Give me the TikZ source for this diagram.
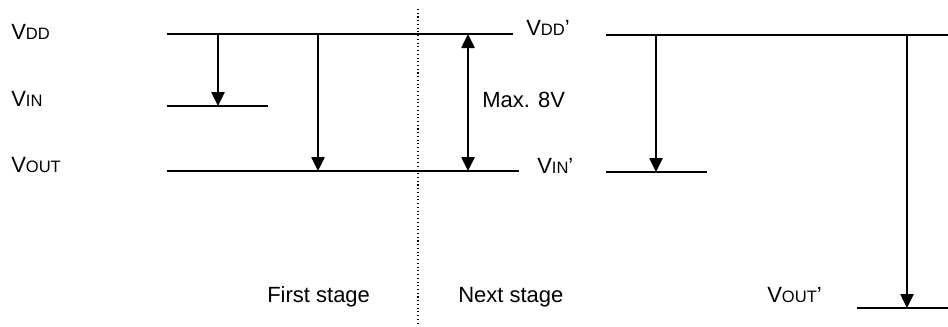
\documentclass[tikz,border=0pt]{standalone}
\usepackage{fontspec}
\setmainfont{Liberation Sans}
\usetikzlibrary{arrows.meta}
\newcommand{\lowcap}[1]{{\fontsize{12.4}{14}\selectfont #1}}
\tikzset{
  level/.style={line width=1.1pt},
  tip/.tip={Triangle[width=10pt,length=10.5pt]},
  arr/.style={line width=1.1pt,-tip},
  dblarr/.style={line width=1.1pt,tip-tip},
  lbl/.style={anchor=base west,inner sep=0pt,font=\fontsize{16.5}{19}\selectfont}
}
\begin{document}
\begin{tikzpicture}[x=.75pt,y=-.75pt]
\path[use as bounding box] (0,0) rectangle (948,326);
\coordinate (vddL) at (167,34);
\coordinate (vddR) at (513,34);
\coordinate (vinL) at (167,106);
\coordinate (vinR) at (268,106);
\coordinate (voutL) at (167,171);
\coordinate (voutR) at (519,171);
\coordinate (vddnL) at (606,35);
\coordinate (vddnR) at (948,35);
\coordinate (vinnL) at (606,172);
\coordinate (vinnR) at (707,172);
\coordinate (voutnL) at (857,308);
\coordinate (voutnR) at (948,308);
\draw[level] (vddL)--(vddR);
\draw[level] (vinL)--(vinR);
\draw[level] (voutL)--(voutR);
\draw[level] (vddnL)--(vddnR);
\draw[level] (vinnL)--(vinnR);
\draw[level] (voutnL)--(voutnR);
\draw[line width=.8pt,dotted] (418,9)--(418,326);
\coordinate (a1) at (218,0);
\coordinate (a2) at (318,0);
\coordinate (a3) at (468,0);
\coordinate (a4) at (656,0);
\coordinate (a5) at (907,0);
\draw[arr] (a1|-vddL)--(a1|-vinL);
\draw[arr] (a2|-vddL)--(a2|-voutL);
\draw[dblarr] (a3|-vddL)--(a3|-voutL);
\draw[arr] (a4|-vddnL)--(a4|-vinnL);
\draw[arr] (a5|-vddnL)--(a5|-voutnL);
\node[lbl] (vdd) at (11,39.5) {V\lowcap{DD}};
\node[lbl] (vin) at (11,106.5) {V\lowcap{IN}};
\node[lbl] (vout) at (11,172) {V\lowcap{OUT}};
\node[lbl] (vddn) at (526,35) {V\lowcap{DD}’};
\node[lbl] (vinn) at (537,173) {V\lowcap{IN}’};
\node[lbl] (voutn) at (767,302) {V\lowcap{OUT}’};
\node[lbl] (max) at (482,107) {Max. 8V};
\node[lbl] (first) at (267,302) {First stage};
\node[lbl] (next) at (458,302) {Next stage};
\end{tikzpicture}
\end{document}
